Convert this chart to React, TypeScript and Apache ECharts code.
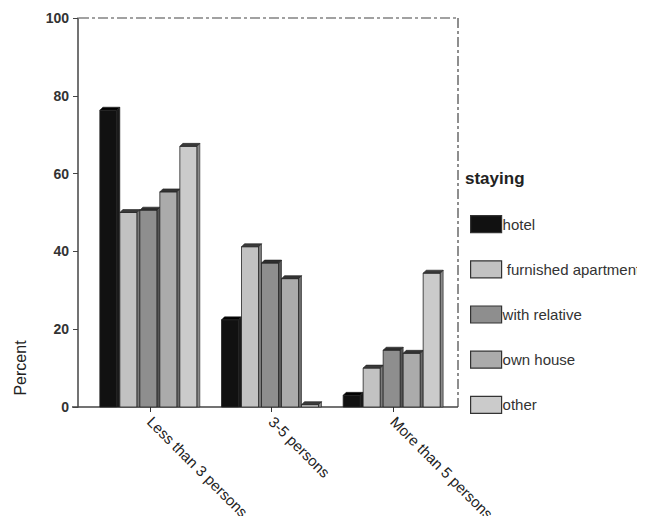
import React, { useEffect, useRef } from "react";
import * as echarts from "echarts";

const categories = ["Less than 3 persons", "3-5 persons", "More than 5 persons"];
const seriesNames = ["hotel", "furnished apartment", "with relative", "own house", "other"];
const hotel = [76.3, 22.4, 3];
const furnished = [50, 41.2, 10];
const relative = [50.6, 37, 14.6];
const ownHouse = [55.3, 33, 13.8];
const other = [67, 0.6, 34.4];
const yTicks = { min: 0, max: 100, interval: 20 };

const fills = ["#111111", "#c2c2c2", "#8e8e8e", "#ababab", "#cbcbcb"];
const tops = ["#000000", "#3a3a3a", "#2e2e2e", "#333333", "#3a3a3a"];
const sides = ["#1a1a1a", "#7a7a7a", "#555555", "#6a6a6a", "#8a8a8a"];
const FONT = "Liberation Sans, Arial, sans-serif";

export default function App() {
  const ref = useRef<HTMLDivElement>(null);
  useEffect(() => {
    if (!ref.current) return;
    const chart = echarts.init(ref.current, null, { renderer: "svg" });
    const all = [hotel, furnished, relative, ownHouse, other];
    const step = 20;
    const front = 17;
    const d = 3;
    const series = all.map((vals, si) => ({
      type: "custom",
      name: seriesNames[si],
      itemStyle: { color: fills[si], borderColor: "#333" },
      encode: { x: 0, y: 1 },
      data: vals.map((v, ci) => [categories[ci], v]),
      renderItem: (params: any, api: any) => {
        const c = api.coord([api.value(0), api.value(1)]);
        const base = api.coord([api.value(0), 0]);
        const x0 = c[0] - 50 + si * step;
        const x1 = x0 + front;
        const yTop = c[1];
        const yb = base[1];
        return {
          type: "group",
          children: [
            {
              type: "polygon",
              shape: { points: [[x1, yTop], [x1 + d, yTop - d], [x1 + d, yb], [x1, yb]] },
              style: { fill: sides[si], stroke: "#222", lineWidth: 0.6 },
            },
            {
              type: "rect",
              shape: { x: x0, y: yTop, width: front, height: yb - yTop },
              style: { fill: fills[si], stroke: "#222", lineWidth: 0.8 },
            },
            {
              type: "polygon",
              shape: { points: [[x0, yTop], [x1, yTop], [x1 + d, yTop - d], [x0 + d, yTop - d]] },
              style: { fill: tops[si], stroke: "#222", lineWidth: 0.6 },
            },
          ],
        };
      },
    }));
    const dash = [10, 3, 3, 3];
    chart.setOption({
      animation: false,
      grid: { left: 89, right: 191, top: 18, bottom: 117 },
      xAxis: {
        type: "category",
        data: categories,
        axisLine: { show: false },
        axisTick: { show: true, alignWithLabel: true, length: 5, lineStyle: { color: "#333" } },
        axisLabel: {
          rotate: -45,
          fontFamily: FONT,
          fontSize: 15,
          color: "#222",
          margin: 12,
        },
      },
      yAxis: {
        type: "value",
        min: yTicks.min,
        max: yTicks.max,
        interval: yTicks.interval,
        offset: 11,
        splitLine: { show: false },
        axisLine: { show: true, lineStyle: { color: "#444", width: 1.5 } },
        axisTick: { show: true, length: 5, lineStyle: { color: "#444" } },
        axisLabel: {
          fontFamily: FONT,
          fontSize: 14,
          fontWeight: "bold",
          color: "#333",
          margin: 9,
        },
      },
      legend: {
        orient: "vertical",
        left: 470,
        top: 215,
        padding: 0,
        itemWidth: 31,
        itemHeight: 17,
        itemGap: 27,
        selectedMode: false,
        formatter: (n: string) => (n === "furnished apartment" ? " " + n : n),
        textStyle: { fontFamily: FONT, fontSize: 15, color: "#333", padding: [0, 0, 0, -4] },
        data: seriesNames.map((n, i) => ({
          name: n,
          icon: "rect",
          itemStyle: { color: fills[i], borderColor: "#333", borderWidth: 1.2 },
        })),
      },
      graphic: [
        { type: "line", shape: { x1: 72, y1: 407, x2: 458, y2: 407 }, style: { stroke: "#444", lineWidth: 1.5 } },
        { type: "line", shape: { x1: 79, y1: 18, x2: 458, y2: 18 }, style: { stroke: "#444", lineWidth: 1.2, lineDash: dash } },
        { type: "line", shape: { x1: 458, y1: 18, x2: 458, y2: 407 }, style: { stroke: "#444", lineWidth: 1.2, lineDash: dash } },
        {
          type: "text",
          x: 465,
          y: 170,
          style: { text: "staying", fontFamily: FONT, fontSize: 17, fontWeight: "bold", fill: "#222" },
        },
        {
          type: "text",
          x: 20,
          y: 368,
          rotation: Math.PI / 2,
          style: { text: "Percent", fontFamily: FONT, fontSize: 16, fill: "#222", align: "center", verticalAlign: "middle" },
        },
      ],
      series,
    });
    return () => chart.dispose();
  }, []);
  return <div ref={ref} style={{ width: 645, height: 524, margin: -8 }} />;
}
